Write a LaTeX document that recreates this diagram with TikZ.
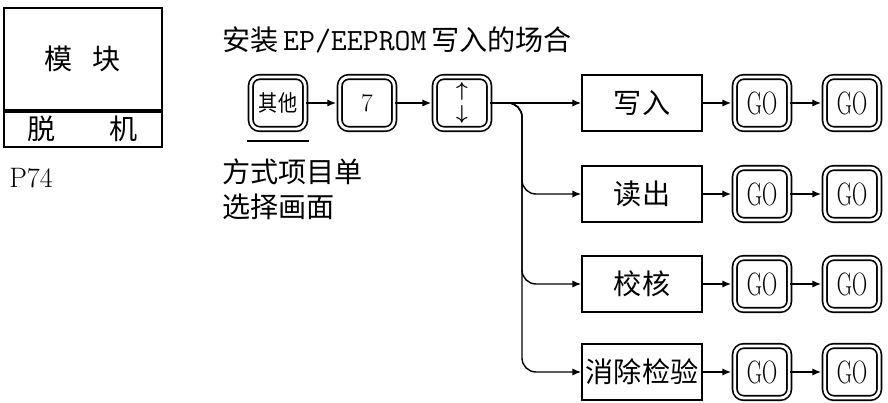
\documentclass[tikz,border=0pt]{standalone}
\usepackage{amsmath}
\usepackage{fontspec}
\usepackage{graphicx}
\newfontfamily\cjk{Noto Sans CJK SC}
\usetikzlibrary{arrows.meta}

\begin{document}
\begin{tikzpicture}[x=0.25mm, y=-0.25mm, >={Latex[length=2.2mm,width=1.8mm]}]
    \tikzset{
        key/.style={draw, double, line width=0.42mm, double distance=0.7mm,
            rounded corners=2.2mm, minimum width=13.6mm, minimum height=13mm, inner sep=0pt},
        func/.style={draw, line width=0.4mm, minimum width=30mm, minimum height=14mm,
            inner sep=0pt, font=\cjk\fontsize{20}{24}\selectfont},
        golabel/.style={font=\fontsize{23}{26}\selectfont},
        flow/.style={->, line width=1pt},
        tokey/.style={->, line width=1pt, shorten >=0.7mm}
    }
    \useasboundingbox (0,0) rectangle (888,403);
    % module panel
    \node[draw, line width=0.45mm, minimum width=39.5mm, minimum height=25.5mm,
        font=\cjk\fontsize{20}{22}\selectfont] (module) at (83,59) {模\hspace{5mm}块};
    \node[draw, line width=0.45mm, anchor=north, minimum width=39.5mm, minimum height=8.75mm,
        inner sep=0pt, font=\cjk\fontsize{20}{22}\selectfont] (offline) at (module.south) {脱\hspace{13.5mm}机};
    \node[anchor=west, inner sep=0pt, font=\fontsize{20}{24}\selectfont] (page) at (9,178) {P74};
    % title
    \node[anchor=west, inner sep=0pt, font=\fontsize{20}{24}\selectfont] (title) at (222,40)
        {{\cjk 安装}\,{\ttfamily\fontsize{22}{24}\selectfont EP/EEPROM}\,{\cjk 写入的场合}};
    % key sequence
    \node[key, font=\cjk\fontsize{16}{18}\selectfont] (other) at (278,103) {\scalebox{0.85}[1]{其他}};
    \node[key, font=\fontsize{18}{20}\selectfont] (seven) at (367,103) {7};
    \node[key, align=center, font=\fontsize{14}{12}\selectfont] (select) at (462,103)
        {$\boldsymbol{\uparrow}$\\[1mm]$\boldsymbol{\downarrow}$};
    \draw[line width=0.4mm] ([xshift=-0.7mm,yshift=-2.8mm]other.south west)
        -- ([xshift=0.7mm,yshift=-2.8mm]other.south east);
    \node[anchor=west, inner sep=0pt, font=\cjk\fontsize{20}{24}\selectfont] (menu) at (222,172) {方式项目单};
    \node[anchor=west, inner sep=0pt, font=\cjk\fontsize{20}{24}\selectfont] (screen) at (222,207) {选择画面};
    \draw[tokey] (other) -- (seven);
    \draw[tokey] (seven) -- (select);
    % branches
    \foreach \name/\txt/\y in {write/写入/103, read/读出/194, check/校核/284, erase/消除检验/372} {
        \node[func] (\name) at (642,\y) {\txt};
        \node[key, golabel] (\name-a) at (762,\y) {\scalebox{0.65}[1]{GO}};
        \node[key, golabel] (\name-b) at (852,\y) {\scalebox{0.65}[1]{GO}};
        \draw[tokey] (\name) -- (\name-a);
        \draw[tokey] (\name-a) -- (\name-b);
    }
    \coordinate (split) at (506,103);
    \coordinate (bus) at (522,103);
    \draw[flow] (select) -- (write);
    \foreach \name in {read, check, erase}
        \draw[flow, rounded corners=3.5mm] (split) -- (bus) |- (\name);
\end{tikzpicture}
\end{document}
